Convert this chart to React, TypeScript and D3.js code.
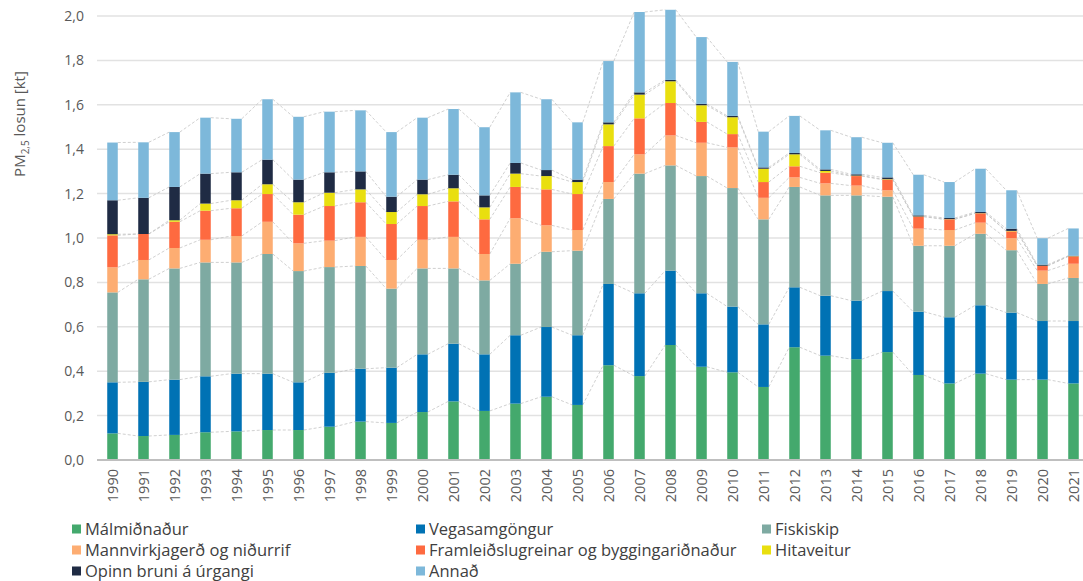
import React, { useEffect, useRef } from 'react';
import * as d3 from 'd3';

const years = ['1990', '1991', '1992', '1993', '1994', '1995', '1996', '1997', '1998', '1999', '2000', '2001', '2002', '2003', '2004', '2005', '2006', '2007', '2008', '2009', '2010', '2011', '2012', '2013', '2014', '2015', '2016', '2017', '2018', '2019', '2020', '2021'];

const malmidnadur = [0.120, 0.108, 0.113, 0.125, 0.129, 0.135, 0.135, 0.150, 0.173, 0.167, 0.216, 0.264, 0.221, 0.254, 0.285, 0.248, 0.427, 0.378, 0.518, 0.420, 0.395, 0.329, 0.508, 0.470, 0.454, 0.486, 0.383, 0.345, 0.389, 0.362, 0.362, 0.345];
const vegasamgongur = [0.230, 0.244, 0.249, 0.252, 0.260, 0.254, 0.215, 0.243, 0.238, 0.249, 0.260, 0.260, 0.255, 0.308, 0.314, 0.314, 0.366, 0.373, 0.335, 0.331, 0.296, 0.282, 0.270, 0.270, 0.264, 0.275, 0.285, 0.298, 0.308, 0.302, 0.264, 0.281];
const fiskiskip = [0.405, 0.462, 0.501, 0.513, 0.501, 0.539, 0.501, 0.476, 0.463, 0.356, 0.387, 0.339, 0.333, 0.322, 0.339, 0.381, 0.383, 0.539, 0.474, 0.528, 0.534, 0.473, 0.452, 0.452, 0.474, 0.425, 0.297, 0.322, 0.322, 0.281, 0.167, 0.194];
const mannvirkjagerd = [0.113, 0.087, 0.092, 0.102, 0.119, 0.145, 0.125, 0.119, 0.131, 0.129, 0.129, 0.142, 0.119, 0.205, 0.119, 0.093, 0.076, 0.087, 0.135, 0.150, 0.183, 0.097, 0.043, 0.054, 0.044, 0.029, 0.077, 0.071, 0.050, 0.054, 0.060, 0.064];
const framleidsla = [0.144, 0.117, 0.118, 0.131, 0.125, 0.125, 0.129, 0.156, 0.156, 0.162, 0.152, 0.160, 0.156, 0.141, 0.162, 0.162, 0.162, 0.162, 0.146, 0.094, 0.060, 0.071, 0.050, 0.048, 0.043, 0.048, 0.054, 0.048, 0.042, 0.031, 0.021, 0.033];
const hitaveitur = [0.005, 0.000, 0.007, 0.032, 0.036, 0.044, 0.056, 0.060, 0.058, 0.054, 0.053, 0.059, 0.054, 0.060, 0.060, 0.054, 0.098, 0.107, 0.098, 0.075, 0.076, 0.060, 0.054, 0.008, 0.002, 0.002, 0.001, 0.001, 0.001, 0.002, 0.001, 0.001];
const opinnBruni = [0.153, 0.163, 0.150, 0.135, 0.126, 0.111, 0.102, 0.092, 0.081, 0.069, 0.066, 0.061, 0.054, 0.048, 0.027, 0.011, 0.009, 0.010, 0.006, 0.006, 0.006, 0.006, 0.006, 0.007, 0.006, 0.008, 0.005, 0.005, 0.005, 0.010, 0.005, 0.002];
const annad = [0.260, 0.250, 0.247, 0.252, 0.241, 0.272, 0.283, 0.273, 0.275, 0.291, 0.279, 0.296, 0.307, 0.318, 0.319, 0.258, 0.276, 0.362, 0.316, 0.301, 0.243, 0.161, 0.167, 0.176, 0.167, 0.156, 0.183, 0.162, 0.195, 0.173, 0.119, 0.123];

const seriesNames = ['Málmiðnaður', 'Vegasamgöngur', 'Fiskiskip', 'Mannvirkjagerð og niðurrif', 'Framleiðslugreinar og byggingariðnaður', 'Hitaveitur', 'Opinn bruni á úrgangi', 'Annað'];
const seriesColors = ['#44a96d', '#0072b4', '#7eaaa2', '#fdad72', '#fe6a40', '#e9df0f', '#1f2b44', '#7db8da'];
const yTicks = [0, 0.2, 0.4, 0.6, 0.8, 1.0, 1.2, 1.4, 1.6, 1.8, 2.0];

const W = 1083;
const H = 581;
const FONT = "'Open Sans', 'DejaVu Sans', sans-serif";

const App = () => {
  const ref = useRef<SVGSVGElement>(null);

  useEffect(() => {
    const values = [malmidnadur, vegasamgongur, fiskiskip, mannvirkjagerd, framleidsla, hitaveitur, opinnBruni, annad];
    const rows = years.map((yr, i) => {
      const row: Record<string, number | string> = { year: yr };
      seriesNames.forEach((n, k) => { row[n] = values[k][i]; });
      return row;
    });

    const stack = d3.stack<Record<string, number | string>>().keys(seriesNames)
      .value((d, key) => d[key] as number);
    const layers = stack(rows);

    const x = d3.scaleBand<string>()
      .domain(years)
      .range([97, 97 + 31 * years.length])
      .paddingInner(0.66)
      .paddingOuter(0.33);
    const y = d3.scaleLinear().domain([0, 2]).range([460, 16]);
    const bw = x.bandwidth();

    const svg = d3.select(ref.current);
    svg.selectAll('*').remove();

    // gridlines
    svg.append('g')
      .selectAll('line')
      .data(yTicks.slice(1))
      .enter()
      .append('line')
      .attr('x1', 97)
      .attr('x2', W)
      .attr('y1', d => y(d))
      .attr('y2', d => y(d))
      .attr('stroke', '#e2e2e2')
      .attr('stroke-width', 1.5);

    // y tick labels
    svg.append('g')
      .selectAll('text')
      .data(yTicks)
      .enter()
      .append('text')
      .attr('x', 84)
      .attr('y', d => y(d))
      .attr('dy', '0.35em')
      .attr('text-anchor', 'end')
      .attr('font-family', FONT)
      .attr('font-size', 14)
      .attr('fill', '#595959')
      .text(d => d3.format('.1f')(d).replace('.', ','));

    // series lines between bars
    const lines = svg.append('g');
    layers.forEach(layer => {
      for (let i = 0; i < layer.length - 1; i++) {
        lines.append('line')
          .attr('x1', (x(years[i]) as number) + bw)
          .attr('x2', x(years[i + 1]) as number)
          .attr('y1', y(layer[i][1]))
          .attr('y2', y(layer[i + 1][1]))
          .attr('stroke', '#c4c4c4')
          .attr('stroke-width', 0.8)
          .attr('stroke-dasharray', '3,2');
      }
    });

    // stacked bars
    svg.append('g')
      .selectAll('g')
      .data(layers)
      .enter()
      .append('g')
      .attr('fill', (_, k) => seriesColors[k])
      .selectAll('rect')
      .data(d => d)
      .enter()
      .append('rect')
      .attr('x', d => x(d.data.year as string) as number)
      .attr('y', d => y(d[1]))
      .attr('width', bw)
      .attr('height', d => y(d[0]) - y(d[1]));

    // zero axis line
    svg.append('line')
      .attr('x1', 97)
      .attr('x2', W)
      .attr('y1', y(0))
      .attr('y2', y(0))
      .attr('stroke', '#bfbfbf')
      .attr('stroke-width', 2);

    // x tick labels
    svg.append('g')
      .selectAll('text')
      .data(years)
      .enter()
      .append('text')
      .attr('transform', d => `translate(${(x(d) as number) + bw / 2}, 469) rotate(-90)`)
      .attr('dy', '0.35em')
      .attr('text-anchor', 'end')
      .attr('font-family', FONT)
      .attr('font-size', 14.5)
      .attr('fill', '#595959')
      .text(d => d);

    // y axis title
    const title = svg.append('text')
      .attr('transform', 'translate(25, 124) rotate(-90)')
      .attr('text-anchor', 'middle')
      .attr('font-family', FONT)
      .attr('font-size', 15)
      .attr('fill', '#595959');
    title.append('tspan').text('PM');
    title.append('tspan').attr('font-size', 10).attr('dy', 4).text('2,5');
    title.append('tspan').attr('dy', -4).text(' losun [kt]');

    // legend
    const colX = [72, 416, 762];
    const rowY = [529, 550, 571];
    const legend = svg.append('g')
      .selectAll('g')
      .data(seriesNames)
      .enter()
      .append('g')
      .attr('transform', (_, i) => `translate(${colX[i % 3]}, ${rowY[Math.floor(i / 3)]})`);
    legend.append('rect')
      .attr('x', 0)
      .attr('y', -4.5)
      .attr('width', 9)
      .attr('height', 9)
      .attr('fill', (_, i) => seriesColors[i]);
    legend.append('text')
      .attr('x', 13)
      .attr('dy', '0.35em')
      .attr('font-family', FONT)
      .attr('font-size', 16.5)
      .attr('fill', '#404040')
      .text(d => d);
  }, []);

  return (
    <svg
      ref={ref}
      width={W}
      height={H}
      style={{ position: 'absolute', left: 0, top: 0, background: '#fff' }}
    />
  );
};

export default App;
